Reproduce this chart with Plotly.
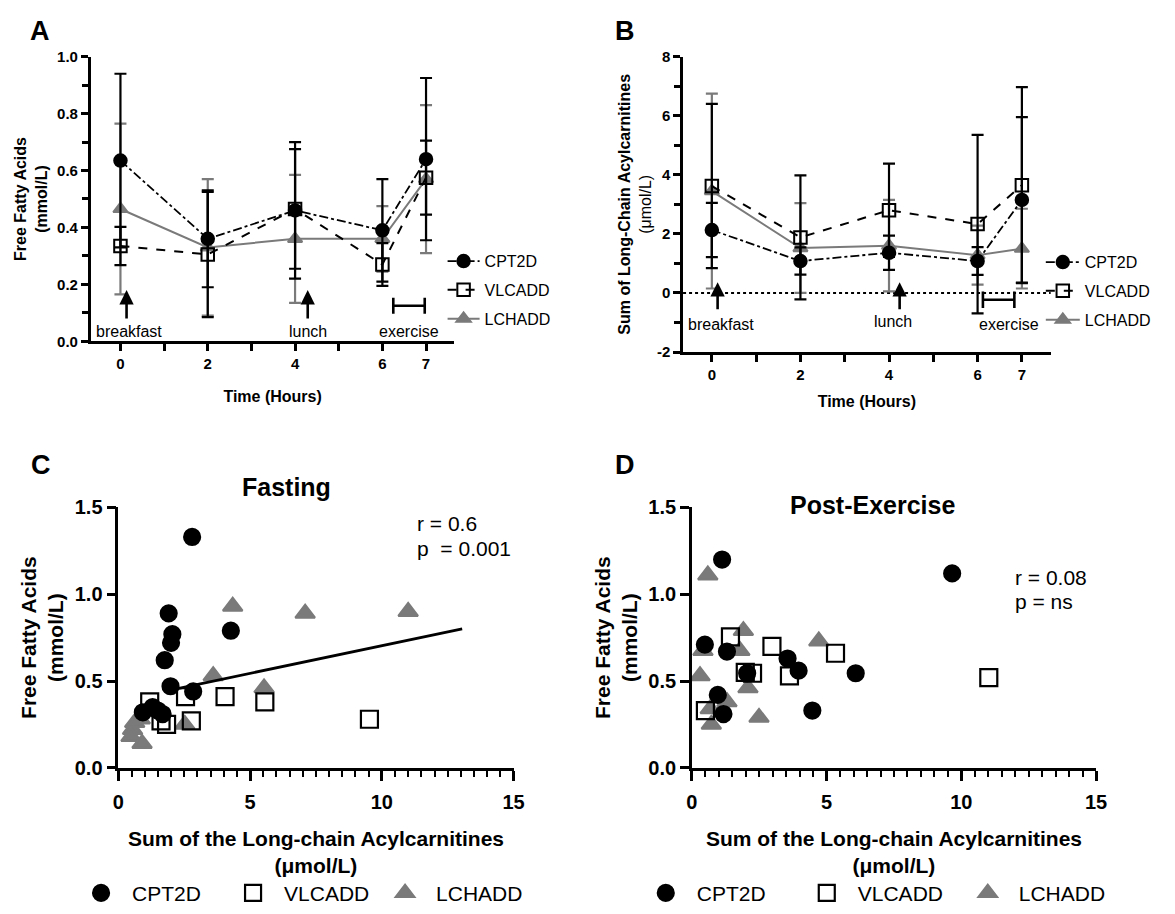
import plotly.graph_objects as go

W, H = 1175, 914
FONT = "Liberation Sans, Arial, sans-serif"
BLACK = "#000000"
GRAY = "#7a7a7a"

# ---------------- data ----------------
time_h = [0, 2, 4, 6, 7]
time_ticks = [0, 1, 2, 3, 4, 5, 6, 7]
time_ticktext = ["0", "", "2", "", "4", "", "6", "7"]

# Panel A: free fatty acids (mmol/L), mean and SD
ffa_cpt2d = [0.635, 0.36, 0.46, 0.39, 0.64]
ffa_cpt2d_sd = [0.305, 0.17, 0.24, 0.18, 0.285]
ffa_vlcadd = [0.335, 0.305, 0.465, 0.27, 0.575]
ffa_vlcadd_sd = [0.067, 0.22, 0.21, 0.075, 0.13]
ffa_lchadd = [0.465, 0.33, 0.36, 0.36, 0.57]
ffa_lchadd_sd = [0.30, 0.24, 0.225, 0.115, 0.26]

# Panel B: sum of long-chain acylcarnitines (umol/L), mean and SD
lcac_cpt2d = [2.13, 1.08, 1.36, 1.08, 3.15]
lcac_cpt2d_sd = [0.92, 0.46, 0.58, 0.47, 2.8]
lcac_vlcadd = [3.62, 1.88, 2.80, 2.33, 3.65]
lcac_vlcadd_sd = [2.78, 2.10, 1.58, 3.02, 3.32]
lcac_lchadd = [3.45, 1.52, 1.60, 1.28, 1.50]
lcac_lchadd_sd = [3.30, 1.52, 1.55, 1.00, 1.35]
lcac_ticks = [-2, 0, 2, 4, 6, 8]
lcac_ticktext = ["-2", "0", "2", "4", "6", "8"]

# Panel C: fasting scatter
fast_cpt2d_x = [2.80, 1.91, 2.05, 2.00, 1.76, 1.98, 4.27, 2.84, 0.93, 1.30, 1.68, 1.50]
fast_cpt2d_y = [1.33, 0.89, 0.77, 0.72, 0.62, 0.47, 0.79, 0.44, 0.32, 0.35, 0.31, 0.33]
fast_vlcadd_x = [1.19, 1.62, 1.83, 2.55, 2.77, 4.05, 5.56, 9.53]
fast_vlcadd_y = [0.38, 0.27, 0.25, 0.41, 0.27, 0.41, 0.38, 0.28]
fast_lchadd_x = [4.34, 7.09, 11.0, 3.60, 5.53, 2.52, 0.54, 0.48, 0.90, 0.62, 0.83]
fast_lchadd_y = [0.93, 0.89, 0.90, 0.53, 0.46, 0.25, 0.22, 0.18, 0.14, 0.26, 0.28]
fast_fit_x = [2.25, 13.05]
fast_fit_y = [0.457, 0.80]

# Panel D: post-exercise scatter
post_cpt2d_x = [1.12, 9.66, 0.48, 1.30, 3.55, 3.96, 6.08, 0.96, 1.17, 4.47, 2.05]
post_cpt2d_y = [1.20, 1.12, 0.71, 0.67, 0.63, 0.56, 0.545, 0.42, 0.31, 0.33, 0.545]
post_vlcadd_x = [1.43, 2.97, 5.33, 1.98, 2.25, 3.62, 11.02, 0.50]
post_vlcadd_y = [0.755, 0.70, 0.66, 0.55, 0.545, 0.53, 0.52, 0.33]
post_lchadd_x = [0.59, 1.91, 1.78, 4.71, 0.41, 0.30, 2.08, 1.30, 0.68, 0.72, 2.49]
post_lchadd_y = [1.11, 0.79, 0.675, 0.73, 0.675, 0.53, 0.46, 0.38, 0.34, 0.25, 0.29]

scatter_ticks = [0, 5, 10, 15]
ffa_ticks_c = [0, 0.5, 1.0, 1.5]
ffa_ticktext_c = ["0.0", "0.5", "1.0", "1.5"]


def px_x(p):
    return p / W


def px_y(p):
    return 1 - p / H


fig = go.Figure()

# ---------------- time-course panels ----------------
series_style = {
    "CPT2D": dict(symbol="circle", color=BLACK, dash="dashdot", size=12.5, lw=1.8, rank=1),
    "VLCADD": dict(symbol="square-open", color=BLACK, dash="dash", size=12.5, lw=2, rank=2),
    "LCHADD": dict(symbol="triangle-up", color=GRAY, dash="solid", size=12.5, lw=2, rank=3),
}

panelA = {"CPT2D": (ffa_cpt2d, ffa_cpt2d_sd), "VLCADD": (ffa_vlcadd, ffa_vlcadd_sd),
          "LCHADD": (ffa_lchadd, ffa_lchadd_sd)}
panelB = {"CPT2D": (lcac_cpt2d, lcac_cpt2d_sd), "VLCADD": (lcac_vlcadd, lcac_vlcadd_sd),
          "LCHADD": (lcac_lchadd, lcac_lchadd_sd)}

for panel, xa, ya, leg in [(panelA, "x", "y", "legend"), (panelB, "x2", "y2", "legend2")]:
    for name in ["LCHADD", "VLCADD", "CPT2D"]:
        st = series_style[name]
        vals, sd = panel[name]
        fig.add_trace(go.Scatter(
            x=time_h, y=vals, name=name, mode="lines+markers",
            xaxis=xa, yaxis=ya, legend=leg, legendrank=st["rank"],
            legendgroup=leg + name,
            line=dict(color=st["color"], width=st["lw"], dash=st["dash"]),
            marker=dict(symbol=st["symbol"], size=st["size"], color=st["color"],
                        line=dict(color=st["color"], width=2)),
            error_y=dict(type="data", array=sd, symmetric=True, color=st["color"],
                         thickness=2.2, width=6),
            cliponaxis=False,
        ))

# ---------------- scatter panels ----------------
scat_style = {
    "CPT2D": dict(symbol="circle", color=BLACK, size=16, rank=1),
    "VLCADD": dict(symbol="square-open", color=BLACK, size=17, rank=2),
    "LCHADD": dict(symbol="triangle-up", color=GRAY, size=17, rank=3),
}
panelC = {"CPT2D": (fast_cpt2d_x, fast_cpt2d_y), "VLCADD": (fast_vlcadd_x, fast_vlcadd_y),
          "LCHADD": (fast_lchadd_x, fast_lchadd_y)}
panelD = {"CPT2D": (post_cpt2d_x, post_cpt2d_y), "VLCADD": (post_vlcadd_x, post_vlcadd_y),
          "LCHADD": (post_lchadd_x, post_lchadd_y)}

for panel, xa, ya, leg in [(panelC, "x3", "y3", "legend3"), (panelD, "x4", "y4", "legend4")]:
    for name in ["LCHADD", "VLCADD", "CPT2D"]:
        st = scat_style[name]
        xs, ys = panel[name]
        fig.add_trace(go.Scatter(
            x=xs, y=ys, name=name, mode="markers",
            xaxis=xa, yaxis=ya, legend=leg, legendrank=st["rank"],
            marker=dict(symbol=st["symbol"], size=st["size"], color=st["color"],
                        line=dict(color=st["color"], width=2.2)),
            cliponaxis=False,
        ))

fig.add_trace(go.Scatter(x=fast_fit_x, y=fast_fit_y, mode="lines", xaxis="x3", yaxis="y3",
                         line=dict(color=BLACK, width=2.8), showlegend=False))

# ---------------- axes ----------------
tickfont_small = dict(family=FONT, size=15, color=BLACK, weight="bold")
tickfont_big = dict(family=FONT, size=20, color=BLACK, weight="bold")
axis_common = dict(showline=True, linecolor=BLACK, linewidth=2.6, ticks="outside",
                   tickcolor=BLACK, tickwidth=2.6, showgrid=False, zeroline=False,
                   mirror=False)

A_dom_x = [px_x(86), px_x(455)]
A_dom_y = [px_y(340), px_y(47)]
B_dom_x = [px_x(687), px_x(1060)]
B_dom_y = [px_y(351), px_y(47)]
C_dom_x = [px_x(114), px_x(515)]
C_dom_y = [px_y(779), px_y(511)]
D_dom_x = [px_x(696), px_x(1106)]
D_dom_y = [px_y(779), px_y(511)]

big_title_font = dict(family=FONT, size=21)

fig.update_layout(
    xaxis=dict(axis_common, domain=A_dom_x, anchor="y", range=[-0.68, 7.65],
               tickmode="array", tickvals=time_ticks, ticktext=time_ticktext,
               ticklen=7, tickfont=tickfont_small,
               title=dict(text="<b>Time (Hours)</b>", font=dict(family=FONT, size=16), standoff=20)),
    yaxis=dict(axis_common, domain=A_dom_y, anchor="x", range=[0, 1.0],
               tickmode="array", tickvals=[0, 0.2, 0.4, 0.6, 0.8, 1.0],
               ticktext=["0.0", "0.2", "0.4", "0.6", "0.8", "1.0"], ticklen=7,
               minor=dict(tickvals=[0.1, 0.3, 0.5, 0.7, 0.9], ticklen=6, tickwidth=2.6,
                          tickcolor=BLACK, ticks="outside"),
               tickfont=tickfont_small,
               title=dict(text="<b>Free Fatty Acids<br>(mmol/L)</b>",
                          font=dict(family=FONT, size=16), standoff=6)),
    xaxis2=dict(axis_common, domain=B_dom_x, anchor="y2", range=[-0.65, 7.65],
                tickmode="array", tickvals=time_ticks, ticktext=time_ticktext,
                ticklen=7, tickfont=tickfont_small,
                title=dict(text="<b>Time (Hours)</b>", font=dict(family=FONT, size=16), standoff=14)),
    yaxis2=dict(axis_common, domain=B_dom_y, anchor="x2", range=[-2, 8],
                tickmode="array", tickvals=lcac_ticks, ticktext=lcac_ticktext, ticklen=7,
                minor=dict(tickvals=[-1, 1, 3, 5, 7], ticklen=6, tickwidth=2.6,
                           tickcolor=BLACK, ticks="outside"),
                tickfont=tickfont_small,
                title=dict(text="<b>Sum of Long-Chain Acylcarnitines</b><br>(\u03bcmol/L)",
                           font=dict(family=FONT, size=16), standoff=2)),
    xaxis3=dict(axis_common, domain=C_dom_x, anchor="y3", range=[0, 15],
                tickmode="array", tickvals=scatter_ticks, ticklen=10,
                minor=dict(dtick=0.5, tick0=0, ticklen=6, tickwidth=2.4,
                           tickcolor=BLACK, ticks="outside"),
                tickfont=tickfont_big, ticklabelstandoff=4,
                title=dict(text="<b>Sum of the Long-chain Acylcarnitines<br>(\u03bcmol/L)</b>",
                           font=big_title_font, standoff=20)),
    yaxis3=dict(axis_common, domain=C_dom_y, anchor="x3", range=[0, 1.5],
                tickmode="array", tickvals=ffa_ticks_c, ticktext=ffa_ticktext_c,
                ticklen=9, tickfont=tickfont_big,
                title=dict(text="<b>Free Fatty Acids<br>(mmol/L)</b>",
                           font=big_title_font, standoff=6)),
    xaxis4=dict(axis_common, domain=D_dom_x, anchor="y4", range=[0, 15],
                tickmode="array", tickvals=scatter_ticks, ticklen=10,
                minor=dict(dtick=0.5, tick0=0, ticklen=6, tickwidth=2.4,
                           tickcolor=BLACK, ticks="outside"),
                tickfont=tickfont_big, ticklabelstandoff=4,
                title=dict(text="<b>Sum of the Long-chain Acylcarnitines<br>(\u03bcmol/L)</b>",
                           font=big_title_font, standoff=20)),
    yaxis4=dict(axis_common, domain=D_dom_y, anchor="x4", range=[0, 1.5],
                tickmode="array", tickvals=ffa_ticks_c, ticktext=ffa_ticktext_c,
                ticklen=9, tickfont=tickfont_big,
                title=dict(text="<b>Free Fatty Acids<br>(mmol/L)</b>",
                           font=big_title_font, standoff=5)),
)

# ---------------- legends ----------------
leg_font16 = dict(family=FONT, size=16, color=BLACK)
leg_font21 = dict(family=FONT, size=21, color=BLACK)
fig.update_layout(
    legend=dict(x=px_x(443), y=px_y(240), xanchor="left", yanchor="top",
                font=leg_font16, bgcolor="rgba(0,0,0,0)", traceorder="grouped",
                tracegroupgap=5, itemwidth=32),
    legend2=dict(x=px_x(1050), y=px_y(241), xanchor="left", yanchor="top",
                 font=leg_font16, bgcolor="rgba(0,0,0,0)", traceorder="grouped",
                 tracegroupgap=5, itemwidth=34),
    legend3=dict(x=px_x(65), y=px_y(887), xanchor="left", yanchor="top",
                 orientation="h", font=leg_font21, bgcolor="rgba(0,0,0,0)",
                 itemwidth=52, entrywidth=85, entrywidthmode="pixels"),
    legend4=dict(x=px_x(638), y=px_y(887), xanchor="left", yanchor="top",
                 orientation="h", font=leg_font21, bgcolor="rgba(0,0,0,0)",
                 itemwidth=52, entrywidth=94, entrywidthmode="pixels"),
)

# ---------------- annotations & shapes ----------------
ann = []
txt16 = dict(family=FONT, size=16, color=BLACK)


def arrow(xa, ya, x, y_tip, y_tail):
    return dict(xref=xa, yref=ya, axref=xa, ayref=ya, x=x, y=y_tip, ax=x, ay=y_tail,
                text="", showarrow=True, arrowhead=2, arrowsize=1.1, arrowwidth=2.6,
                arrowcolor=BLACK)


def label(xa, ya, x, y, t):
    return dict(xref=xa, yref=ya, x=x, y=y, text=t, showarrow=False, font=txt16,
                xanchor="center", yanchor="middle")


ann += [arrow("x", "y", 0.14, 0.18, 0.075), arrow("x", "y", 4.29, 0.18, 0.075),
        label("x", "y", 0.19, 0.035, "breakfast"), label("x", "y", 4.29, 0.035, "lunch"),
        label("x", "y", 6.61, 0.035, "exercise")]
ann += [arrow("x2", "y2", 0.13, 0.36, -0.6), arrow("x2", "y2", 4.24, 0.36, -0.6),
        label("x2", "y2", 0.2, -1.08, "breakfast"), label("x2", "y2", 4.08, -0.96, "lunch"),
        label("x2", "y2", 6.7, -1.08, "exercise")]

for t, xp, yp in [("A", 34, 21), ("B", 628, 21), ("C", 36, 467), ("D", 628, 467)]:
    ann.append(dict(xref="paper", yref="paper", x=px_x(xp), y=px_y(yp), text="<b>%s</b>" % t,
                    showarrow=False, font=dict(family=FONT, size=27, color=BLACK),
                    xanchor="center", yanchor="middle"))

ann.append(dict(xref="paper", yref="paper", x=px_x(285), y=px_y(490), text="<b>Fasting</b>",
                showarrow=False, font=dict(family=FONT, size=25, color=BLACK),
                xanchor="center", yanchor="middle"))
ann.append(dict(xref="paper", yref="paper", x=px_x(879), y=px_y(508), text="<b>Post-Exercise</b>",
                showarrow=False, font=dict(family=FONT, size=25, color=BLACK),
                xanchor="center", yanchor="middle"))
txt21 = dict(family=FONT, size=21, color=BLACK)
for t, xp, yp in [("r = 0.6", 415, 528), ("p  = 0.001", 415, 553),
                  ("r = 0.08", 1022, 583), ("p = ns", 1022, 608)]:
    ann.append(dict(xref="paper", yref="paper", x=px_x(xp), y=px_y(yp), text=t,
                    showarrow=False, font=txt21, xanchor="left", yanchor="middle"))

shapes = []
# exercise brackets
for xa, ya, x0, x1, yy, cap in [("x", "y", 6.25, 6.97, 0.125, 0.028),
                                ("x2", "y2", 6.12, 6.83, -0.23, 0.28)]:
    line = dict(color=BLACK, width=2.6)
    shapes.append(dict(type="line", xref=xa, yref=ya, x0=x0, x1=x1, y0=yy, y1=yy, line=line))
    shapes.append(dict(type="line", xref=xa, yref=ya, x0=x0, x1=x0, y0=yy - cap, y1=yy + cap, line=line))
    shapes.append(dict(type="line", xref=xa, yref=ya, x0=x1, x1=x1, y0=yy - cap, y1=yy + cap, line=line))
# dotted zero line in B
shapes.append(dict(type="line", xref="x2 domain", yref="y2", x0=0, x1=1, y0=0, y1=0,
                   line=dict(color=BLACK, width=2, dash="dot"), layer="below"))

fig.update_layout(
    width=W, height=H, margin=dict(l=0, r=0, t=0, b=0),
    paper_bgcolor="white", plot_bgcolor="white",
    font=dict(family=FONT, color=BLACK),
    annotations=ann, shapes=shapes,
)

# remove the default 8px page margin so the figure sits at the window origin
fig.write_html("out.html", config={"displayModeBar": False},
               post_script="document.body.style.margin='0';")
